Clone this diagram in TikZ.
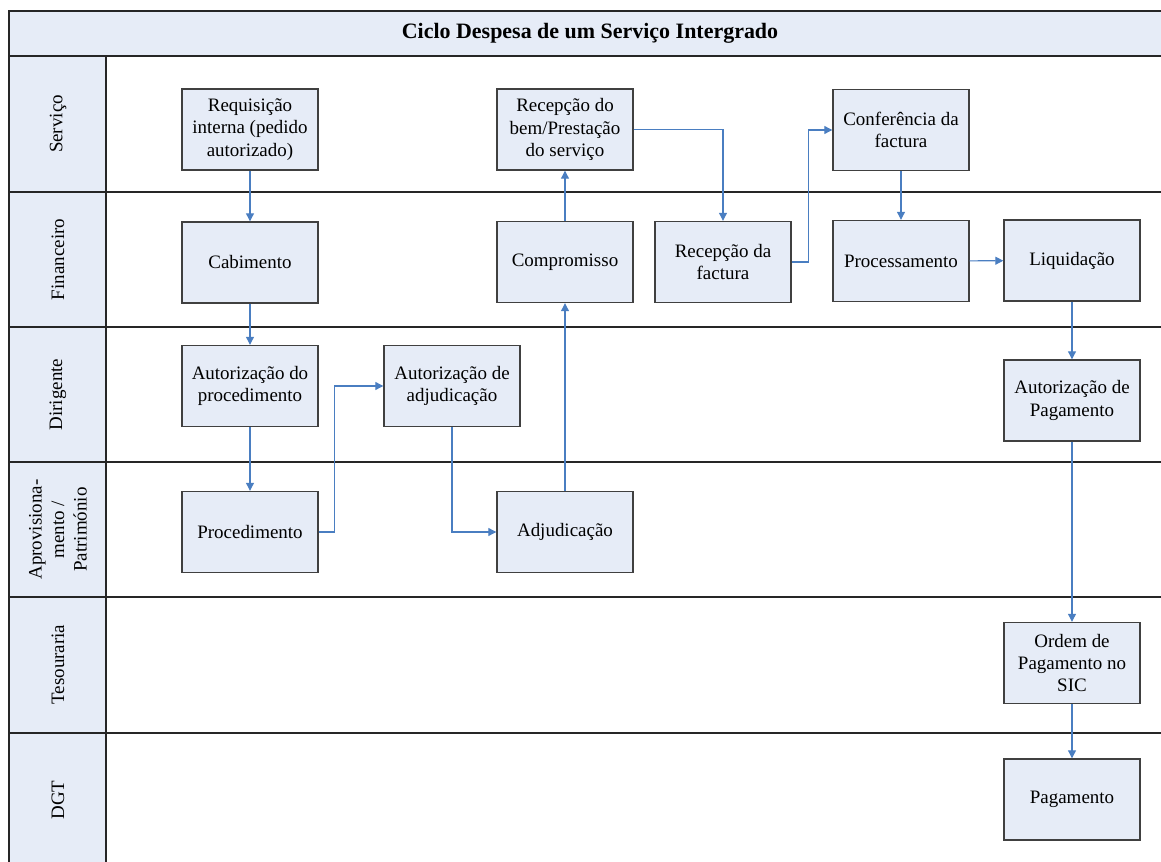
\documentclass[tikz,border=0pt]{standalone}
\usepackage{fontspec}
\setmainfont{Liberation Serif}
\usetikzlibrary{arrows.meta,positioning}
\definecolor{lanefill}{RGB}{230,236,247}
\definecolor{flowblue}{RGB}{74,126,193}
\definecolor{boxline}{RGB}{64,64,64}

\begin{document}
\begin{tikzpicture}[x=0.02cm,y=-0.02cm,>=Triangle, every node/.style={font=\fontsize{10.8}{12.8}\selectfont}]
    \tikzset{task/.style={draw=boxline,fill=lanefill,line width=0.8pt,minimum width=2.72cm,minimum height=1.62cm,align=center,inner sep=1pt}}
    \tikzset{lanename/.style={rotate=90,align=center}}
    \tikzset{flow/.style={->,draw=flowblue,line width=0.6pt,>={Triangle[length=4.5pt,width=4.5pt]}}}
    \tikzset{laneline/.style={draw=black!85,line width=0.8pt}}

    \clip (0,0) rectangle (1161,862);

    % Frame
    \fill[lanefill] (9,11) rectangle (1170,56);
    \fill[lanefill] (9,56) rectangle (106,880);
    \draw[laneline,line width=1.2pt] (1170,11) -- (9,11) -- (9,880);
    \draw[laneline] (106,56) -- (106,880);
    \foreach \y in {56,192,327,462,597,733} \draw[laneline] (9,\y) -- (1170,\y);
    \node[font=\fontsize{12.5}{15}\selectfont\bfseries] (title) at (590,33) {Ciclo Despesa de um Serviço Intergrado};

    % Lanes
    \node[lanename] (lservico) at (58,124) {Serviço};
    \node[lanename] (lfinanceiro) at (58,259.5) {Financeiro};
    \node[lanename] (ldirigente) at (58,394.5) {Dirigente};
    \node[lanename] (laprov) at (58,529.5) {Aprovisiona-\\mento /\\Património};
    \node[lanename] (ltesouraria) at (58,664.5) {Tesouraria};
    \node[lanename] (ldgt) at (58,800) {DGT};

    % Tasks
    \node[task] (req) at (250,129.5) {Requisição\\interna (pedido\\autorizado)};
    \node[task] (cabimento) at (250,262.5) {Cabimento};
    \node[task] (autproc) at (250,386) {Autorização do\\procedimento};
    \node[task] (procedimento) at (250,532) {Procedimento};
    \node[task] (autadj) at (452,386) {Autorização de\\adjudicação};
    \node[task] (adjudicacao) at (565,532) {Adjudicação};
    \node[task] (compromisso) at (565,262) {Compromisso};
    \node[task] (recbem) at (565,129.5) {Recepção do\\bem/Prestação\\do serviço};
    \node[task] (recfactura) at (723,262) {Recepção da\\factura};
    \node[task] (conferencia) at (901,130) {Conferência da\\factura};
    \node[task] (processamento) at (901,261) {Processamento};
    \node[task] (liquidacao) at (1072,260.5) {Liquidação};
    \node[task] (autpag) at (1072,400.5) {Autorização de\\Pagamento};
    \node[task] (ordempag) at (1072,663) {Ordem de\\Pagamento no\\SIC};
    \node[task] (pagamento) at (1072,799.5) {Pagamento};

    % Flow
    \draw[flow] (req) -- (cabimento);
    \draw[flow] (cabimento) -- (autproc);
    \draw[flow] (autproc) -- (procedimento);
    \draw[flow] (procedimento.east) -- ++(16,0) |- (autadj.west);
    \draw[flow] (autadj.south) |- (adjudicacao.west);
    \draw[flow] (adjudicacao) -- (compromisso);
    \draw[flow] (compromisso) -- (recbem);
    \draw[flow] (recbem.east) -| (recfactura.north);
    \draw[flow] (recfactura.east) -- ++(17,0) |- (conferencia.west);
    \draw[flow] (conferencia) -- (processamento);
    \draw[flow] (processamento) -- (liquidacao);
    \draw[flow] (liquidacao) -- (autpag);
    \draw[flow] (autpag) -- (ordempag);
    \draw[flow] (ordempag) -- (pagamento);
\end{tikzpicture}
\end{document}
